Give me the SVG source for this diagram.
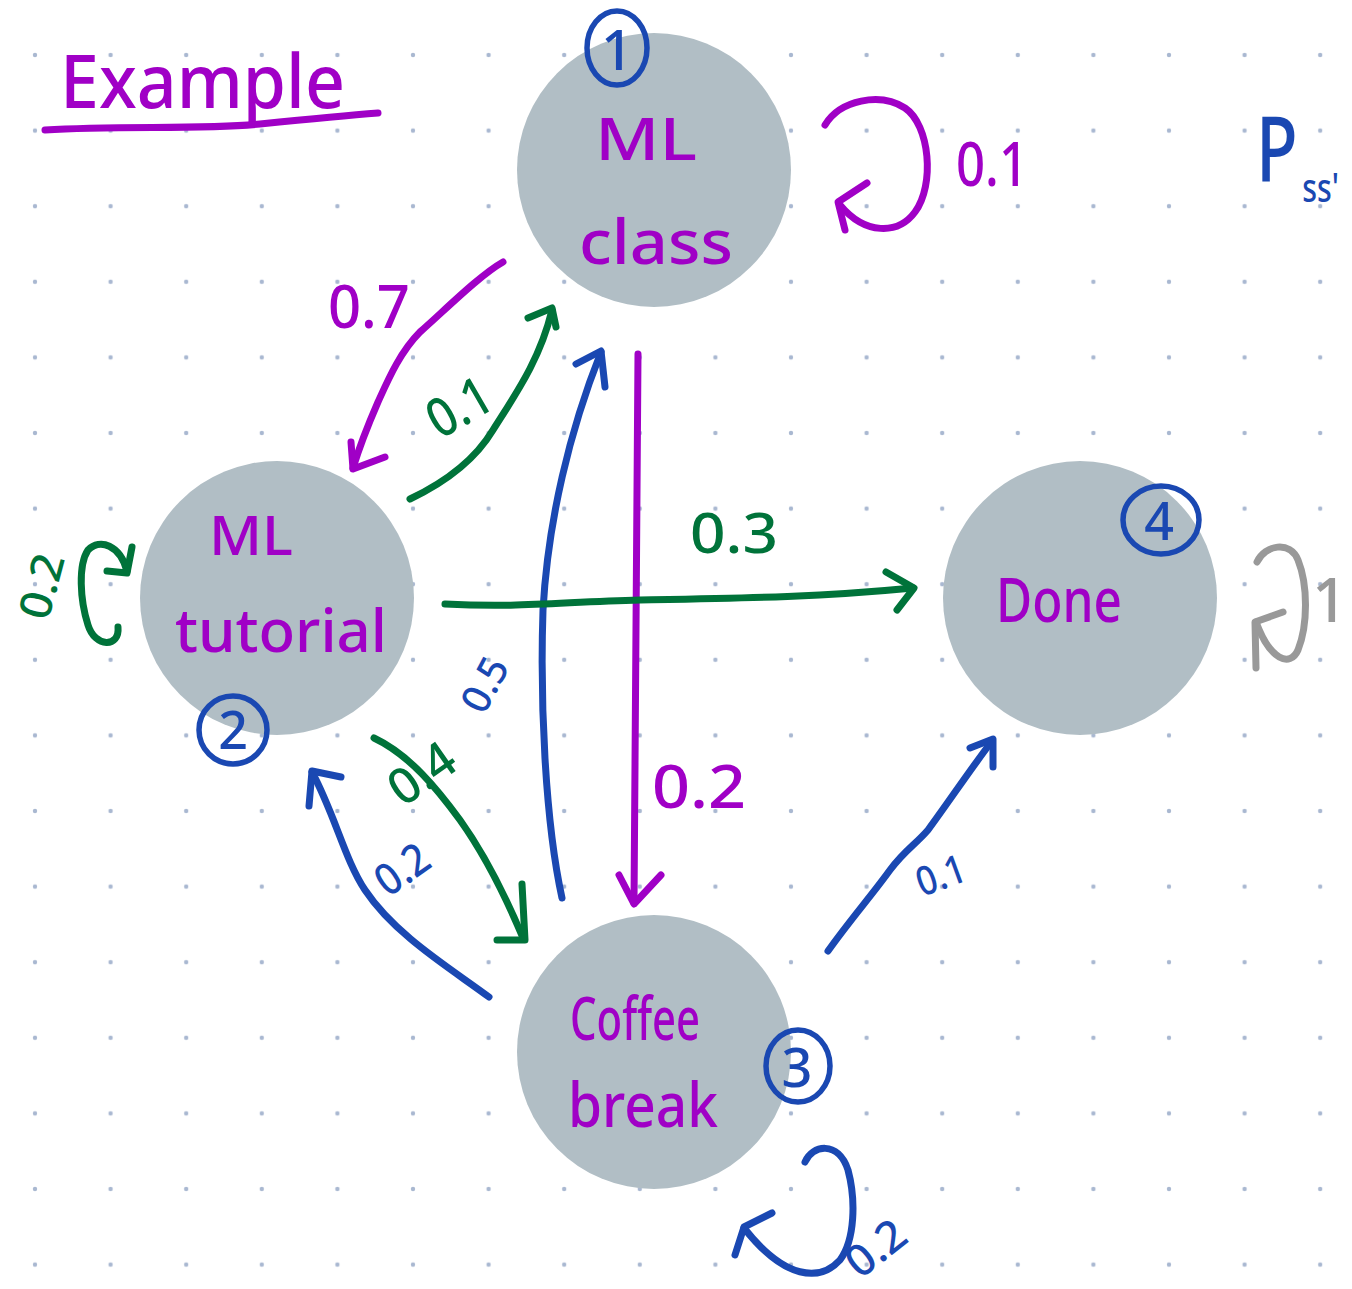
<svg xmlns="http://www.w3.org/2000/svg" width="1352" height="1289" viewBox="0 0 1352 1289">
  <defs>
    <!-- dotted notebook paper -->
    <pattern id="dots" x="35" y="55" width="75.6" height="75.6" patternUnits="userSpaceOnUse">
      <circle cx="0" cy="0" r="2.2" fill="#a9b8d1"/>
      <circle cx="75.6" cy="0" r="2.2" fill="#a9b8d1"/>
      <circle cx="0" cy="75.6" r="2.2" fill="#a9b8d1"/>
      <circle cx="75.6" cy="75.6" r="2.2" fill="#a9b8d1"/>
    </pattern>
    <style>
      .node { fill: #b1bec5; }
      .ink { fill: none; stroke-width: 7; stroke-linecap: round; stroke-linejoin: round; }
      .purple { stroke: #a000c6; }
      .blue { stroke: #1a48b2; }
      .green { stroke: #00733a; }
      .gray { stroke: #999999; }
      .hand { font-family: "Noto Sans", "DejaVu Sans", sans-serif; font-weight: 500; }
      .tp { fill: #a000c6; }
      .tb { fill: #1a48b2; }
      .tg { fill: #00733a; }
      .tgr { fill: #999999; }
      .num { fill: none; stroke: #1a48b2; stroke-width: 5.5; }
    </style>
  </defs>

  <rect width="1352" height="1289" fill="#ffffff"/>
  <rect width="1352" height="1289" fill="url(#dots)"/>

  <!-- title -->
  <g id="title">
    <text class="hand tp" x="60" y="108" font-size="74" textLength="285" lengthAdjust="spacingAndGlyphs">Example</text>
    <path class="ink purple" d="M45,130 C120,125 200,130 260,124 C300,120 340,116 378,113"/>
  </g>

  <!-- transition matrix symbol P with subscript ss' -->
  <g id="symbol">
    <text class="hand tb" font-size="90" transform="translate(1256,182) scale(0.76,1)">P<tspan font-size="40" dx="6" dy="20">ss'</tspan></text>
  </g>

  <!-- states -->
  <g id="node-1">
    <circle class="node" cx="654" cy="170" r="137"/>
    <text class="hand tp" x="646" y="160" font-size="58" text-anchor="middle" textLength="102" lengthAdjust="spacingAndGlyphs">ML</text>
    <text class="hand tp" x="656" y="264" font-size="62" text-anchor="middle" textLength="154" lengthAdjust="spacingAndGlyphs">class</text>
    <ellipse class="num" cx="617" cy="48" rx="30" ry="37"/>
    <text class="hand tb" x="617" y="70" font-size="56" text-anchor="middle">1</text>
  </g>

  <g id="node-2">
    <circle class="node" cx="277" cy="598" r="137"/>
    <text class="hand tp" x="251" y="555" font-size="54" text-anchor="middle" textLength="84" lengthAdjust="spacingAndGlyphs">ML</text>
    <text class="hand tp" x="281" y="652" font-size="60" text-anchor="middle" textLength="212" lengthAdjust="spacingAndGlyphs">tutorial</text>
    <circle class="num" cx="233" cy="730" r="34"/>
    <text class="hand tb" x="233" y="749" font-size="52" text-anchor="middle">2</text>
  </g>

  <g id="node-3">
    <circle class="node" cx="654" cy="1052" r="137"/>
    <text class="hand tp" x="635" y="1040" font-size="60" text-anchor="middle" textLength="130" lengthAdjust="spacingAndGlyphs">Coffee</text>
    <text class="hand tp" x="643" y="1127" font-size="62" text-anchor="middle" textLength="150" lengthAdjust="spacingAndGlyphs">break</text>
    <ellipse class="num" cx="798" cy="1066" rx="32" ry="36"/>
    <text class="hand tb" x="797" y="1087" font-size="54" text-anchor="middle">3</text>
  </g>

  <g id="node-4">
    <circle class="node" cx="1080" cy="598" r="137"/>
    <text class="hand tp" x="1059" y="622" font-size="62" text-anchor="middle" textLength="126" lengthAdjust="spacingAndGlyphs">Done</text>
    <ellipse class="num" cx="1161" cy="520" rx="38" ry="34"/>
    <text class="hand tb" x="1159" y="540" font-size="52" text-anchor="middle">4</text>
  </g>

  <!-- transitions -->
  <g id="connectors">
    <!-- 1 -> 1 : 0.1 -->
    <path class="ink purple" d="M825,125 C840,100 880,92 905,108 C930,125 935,185 915,212 C898,235 865,235 840,205"/>
    <path class="ink purple" d="M867,183 L838,202 L845,230"/>
    <text class="hand tp" x="956" y="186" font-size="62" textLength="72" lengthAdjust="spacingAndGlyphs">0.1</text>

    <!-- 1 -> 2 : 0.7 -->
    <path class="ink purple" d="M503,262 C480,275 445,310 420,332 C400,352 388,380 378,402 C368,425 360,445 353,468"/>
    <path class="ink purple" d="M351,442 L353,469 L385,457"/>
    <text class="hand tp" x="328" y="328" font-size="60" textLength="82" lengthAdjust="spacingAndGlyphs">0.7</text>

    <!-- 2 -> 1 : 0.1 -->
    <path class="ink green" d="M410,499 C450,480 478,455 493,430 C515,395 540,360 552,310"/>
    <path class="ink green" d="M528,318 L552,308 L556,327"/>
    <text class="hand tg" x="0" y="0" font-size="54" transform="translate(440,440) rotate(-30)" textLength="66" lengthAdjust="spacingAndGlyphs">0.1</text>

    <!-- 3 -> 1 : 0.5 -->
    <path class="ink blue" d="M562,898 C545,820 540,700 543,610 C548,520 570,430 601,352"/>
    <path class="ink blue" d="M576,364 L601,351 L605,387"/>
    <text class="hand tb" x="0" y="0" font-size="40" transform="translate(484,716) rotate(-62)" textLength="56" lengthAdjust="spacingAndGlyphs">0.5</text>

    <!-- 1 -> 3 : 0.2 -->
    <path class="ink purple" d="M638,354 C637,500 636,700 634,903"/>
    <path class="ink purple" d="M619,875 L634,904 L661,875"/>
    <text class="hand tp" x="652" y="808" font-size="60" textLength="94" lengthAdjust="spacingAndGlyphs">0.2</text>

    <!-- 2 -> 4 : 0.3 -->
    <path class="ink green" d="M445,604 C520,608 560,602 640,600 C750,598 820,597 913,588"/>
    <path class="ink green" d="M886,572 L914,588 L897,610"/>
    <text class="hand tg" x="690" y="553" font-size="56" textLength="88" lengthAdjust="spacingAndGlyphs">0.3</text>

    <!-- 2 -> 3 : 0.4 -->
    <path class="ink green" d="M374,738 C410,755 438,790 460,820 C485,855 505,895 523,938"/>
    <path class="ink green" d="M497,940 L525,940 L522,884"/>
    <text class="hand tg" x="0" y="0" font-size="50" transform="translate(403,808) rotate(-35)" textLength="70" lengthAdjust="spacingAndGlyphs">0.4</text>

    <!-- 3 -> 2 : 0.2 -->
    <path class="ink blue" d="M489,997 C450,968 395,935 365,890 C345,860 335,815 312,772"/>
    <path class="ink blue" d="M309,806 L312,771 L341,777"/>
    <text class="hand tb" x="0" y="0" font-size="44" transform="translate(388,898) rotate(-35)" textLength="56" lengthAdjust="spacingAndGlyphs">0.2</text>

    <!-- 3 -> 4 : 0.1 -->
    <path class="ink blue" d="M828,951 C850,920 872,895 890,870 C905,850 915,845 928,830 C950,800 970,770 992,741"/>
    <path class="ink blue" d="M970,748 L993,739 L993,767"/>
    <text class="hand tb" x="0" y="0" font-size="40" transform="translate(922,897) rotate(-20)" textLength="50" lengthAdjust="spacingAndGlyphs">0.1</text>

    <!-- 2 -> 2 : 0.2 -->
    <path class="ink green" d="M118,627 C120,648 95,648 88,625 C80,600 78,565 88,550 C100,538 120,545 127,571"/>
    <path class="ink green" d="M107,571 L127,573 L132,547"/>
    <text class="hand tg" x="0" y="0" font-size="44" transform="translate(48,622) rotate(-75)" textLength="66" lengthAdjust="spacingAndGlyphs">0.2</text>

    <!-- 3 -> 3 : 0.2 -->
    <path class="ink blue" d="M805,1162 C812,1145 838,1140 848,1170 C856,1200 855,1240 840,1260 C820,1282 785,1280 744,1228"/>
    <path class="ink blue" d="M772,1213 L744,1227 L735,1255"/>
    <text class="hand tb" x="0" y="0" font-size="44" transform="translate(860,1280) rotate(-38)" textLength="64" lengthAdjust="spacingAndGlyphs">0.2</text>

    <!-- 4 -> 4 : 1 -->
    <path class="ink gray" d="M1257,562 C1265,545 1290,540 1298,560 C1308,585 1308,625 1298,650 C1290,668 1270,660 1256,622"/>
    <path class="ink gray" d="M1283,612 L1255,622 L1256,668"/>
    <text class="hand tgr" x="1312" y="622" font-size="62">1</text>
  </g>
</svg>
